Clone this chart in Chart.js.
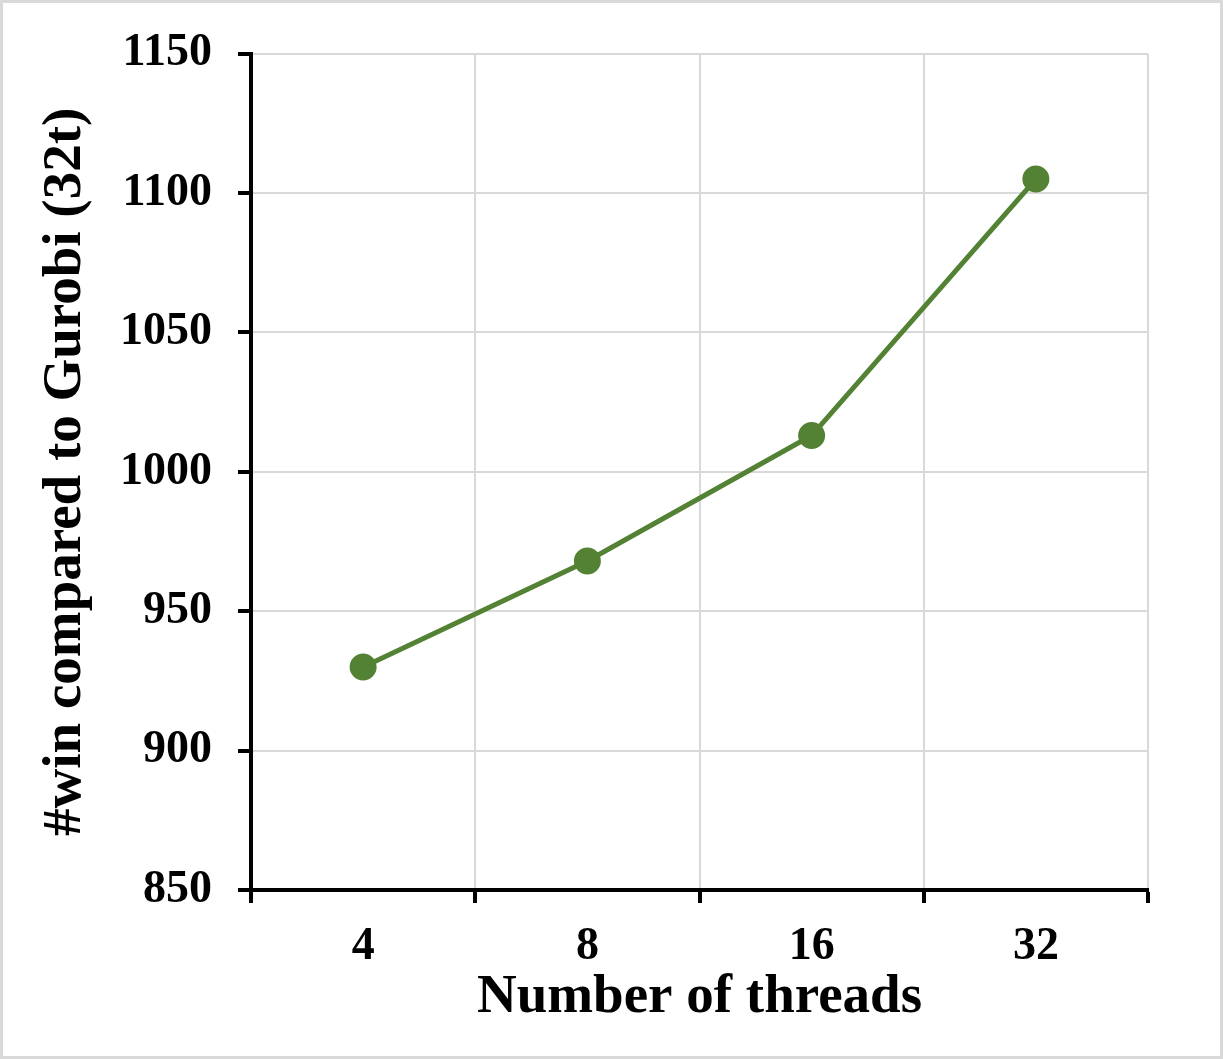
<!DOCTYPE html>
<html>
<head>
<meta charset="utf-8">
<script src="https://cdn.jsdelivr.net/npm/chart.js@4/dist/chart.umd.min.js"></script>
<style>
  body { margin: 0; background: #fff; }
  #wrap { position: relative; width: 1223px; height: 1059px; }
  #frame { position: absolute; left: 0; top: 0; width: 1223px; height: 1059px; box-sizing: border-box; border: 3px solid #d9d9d9; pointer-events: none; }
</style>
</head>
<body>
<div id="wrap">
  <canvas id="chart" width="1223" height="1059"></canvas>
  <div id="frame"></div>
</div>
<script>
const threads = ['4', '8', '16', '32'];
const wins = [930, 968, 1013, 1105];
const yTicks = [850, 900, 950, 1000, 1050, 1100, 1150];

const serif = '"Liberation Serif", "Times New Roman", serif';

const ctx = document.getElementById('chart').getContext('2d');
new Chart(ctx, {
    type: 'line',
    data: {
        labels: threads,
        datasets: [{
            data: wins,
            borderColor: '#548235',
            backgroundColor: '#548235',
            borderWidth: 5,
            pointRadius: 11,
            pointHoverRadius: 11,
            tension: 0,
            fill: false
        }]
    },
    options: {
        responsive: false,
        animation: false,
        layout: { padding: { top: 53, right: 75, left: 0, bottom: 0 } },
        plugins: {
            legend: { display: false },
            tooltip: { enabled: false }
        },
        scales: {
            x: {
                offset: true,
                grid: { offset: true, color: '#d9d9d9', lineWidth: 2, tickLength: 13, tickColor: '#000', tickWidth: 4 },
                border: { color: '#000', width: 4 },
                ticks: { color: '#000', padding: 17, font: { family: serif, size: 46, weight: 'bold' } },
                title: {
                    display: true,
                    text: 'Number of threads',
                    color: '#000',
                    font: { family: serif, size: 55, weight: 'bold', lineHeight: 1.2 },
                    padding: { top: 0, bottom: 28 }
                },
                afterFit: s => { s.height = 169; }
            },
            y: {
                min: 850,
                max: 1150,
                afterBuildTicks: s => { s.ticks = yTicks.map(v => ({ value: v })); },
                grid: { color: '#d9d9d9', lineWidth: 2, tickLength: 13, tickColor: '#000', tickWidth: 4 },
                border: { color: '#000', width: 4 },
                ticks: {
                    color: '#000',
                    padding: 26,
                    font: { family: serif, size: 46, weight: 'bold' },
                    callback: v => String(v)
                },
                title: {
                    display: true,
                    text: '#win compared to Gurobi (32t)',
                    color: '#000',
                    font: { family: serif, size: 55, weight: 'bold', lineHeight: 1.2 },
                    padding: { top: 33, bottom: 0 }
                },
                afterFit: s => { s.width = 251; }
            }
        }
    }
});
</script>
</body>
</html>
